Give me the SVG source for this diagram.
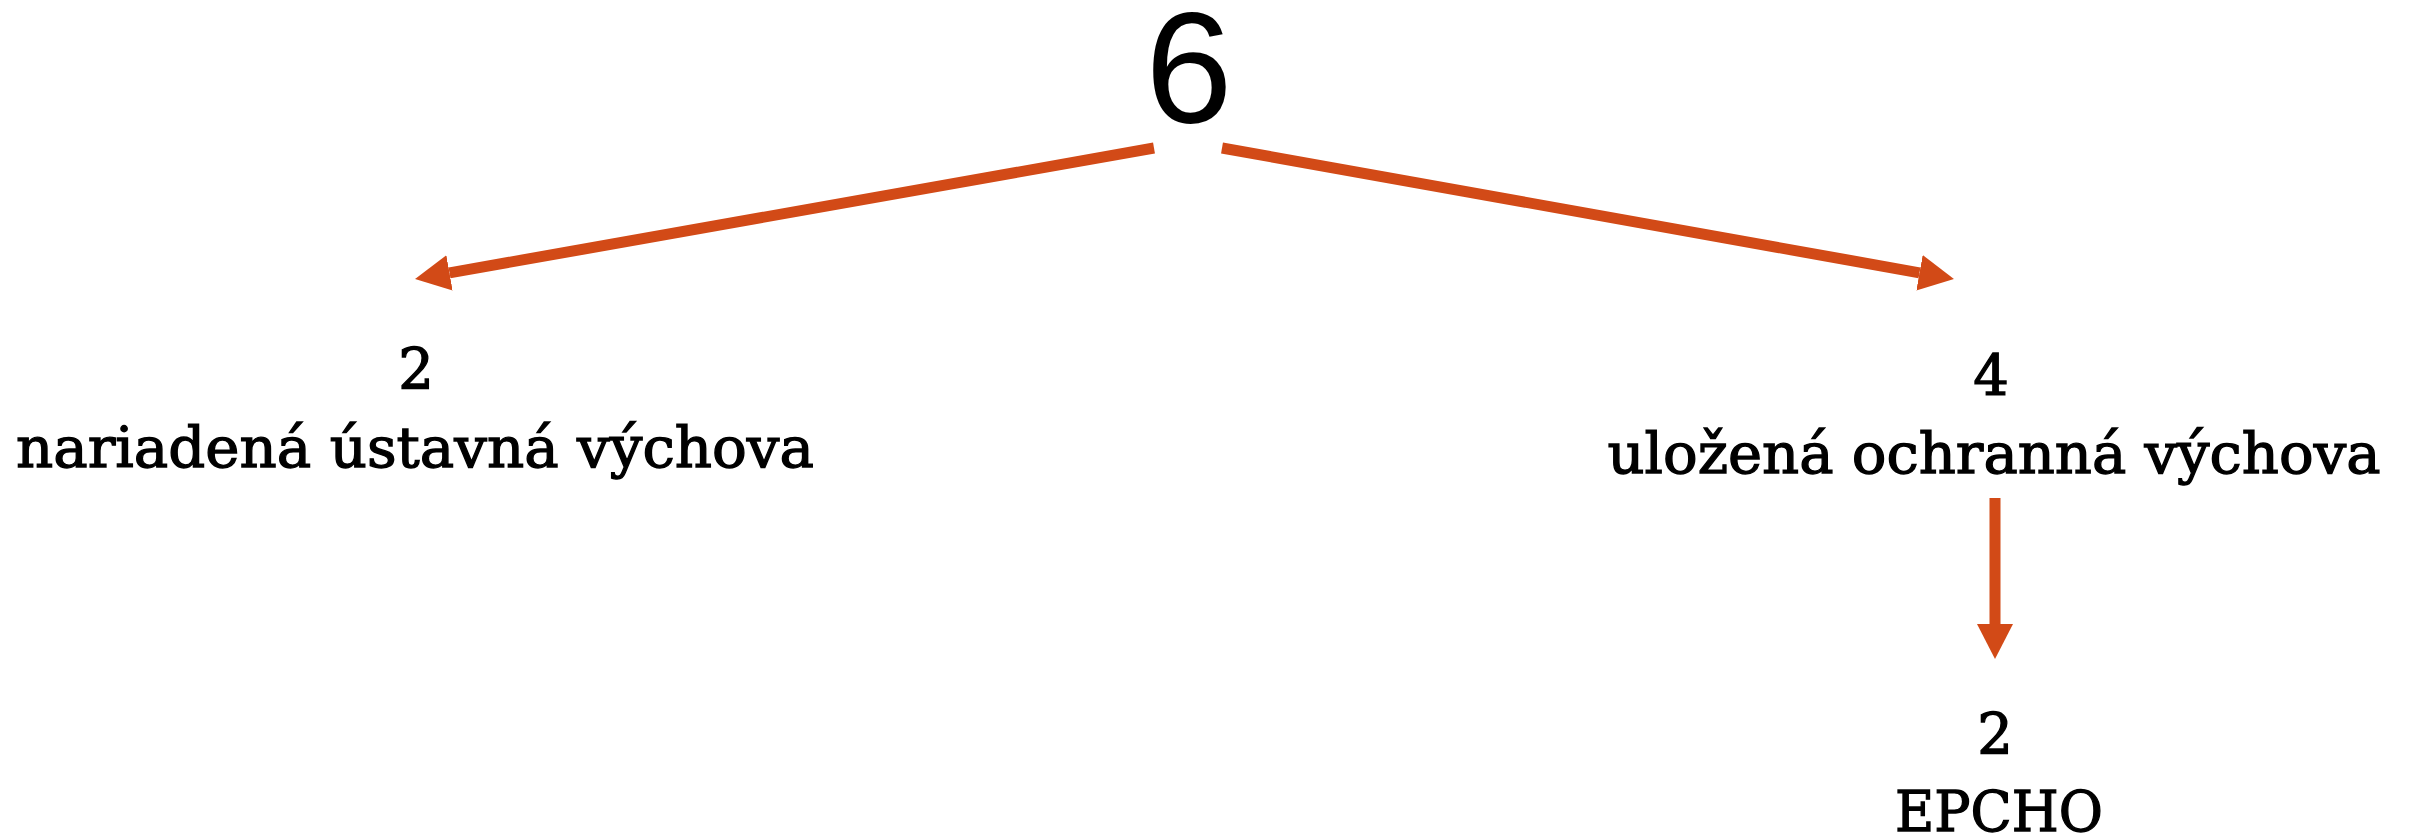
<svg xmlns="http://www.w3.org/2000/svg" width="2410" height="836" viewBox="0 0 2410 836">
<style>
.lbl{font-family:"DejaVu Serif","Liberation Serif",serif;font-size:56px;fill:#000;stroke:#000;stroke-width:1.3px;text-anchor:middle}
.root{font-family:"Liberation Sans",Arial,sans-serif;font-size:157px;fill:#000;text-anchor:middle}
.conn{stroke:#D24A17;stroke-width:11;fill:none;stroke-linecap:butt}
</style>
<defs>
<marker id="ah" viewBox="0 0 35 36" markerWidth="35" markerHeight="36" markerUnits="userSpaceOnUse" refX="0" refY="18" orient="auto">
<path d="M0,0 L35,18 L0,36 Z" fill="#D24A17"/>
</marker>
</defs>
<rect width="2410" height="836" fill="#fff"/>
<g id="connectors">
<line class="conn" x1="1154" y1="148" x2="449.5" y2="272.9" marker-end="url(#ah)"/>
<line class="conn" x1="1222" y1="148" x2="1919.5" y2="272.8" marker-end="url(#ah)"/>
<line class="conn" x1="1995" y1="498" x2="1995" y2="624" stroke-width="12" marker-end="url(#ah)"/>
</g>
<g id="node-root">
<text class="root" x="1189" y="122">6</text>
</g>
<g id="node-left">
<text class="lbl" x="416" y="388">2</text>
<text class="lbl" x="415" y="467" textLength="798" lengthAdjust="spacingAndGlyphs">nariadená ústavná výchova</text>
</g>
<g id="node-right">
<text class="lbl" x="1991" y="395">4</text>
<text class="lbl" x="1994" y="473" textLength="773" lengthAdjust="spacingAndGlyphs">uložená ochranná výchova</text>
</g>
<g id="node-epcho">
<text class="lbl" x="1995" y="753">2</text>
<text class="lbl" x="1999" y="831" textLength="208" lengthAdjust="spacingAndGlyphs">EPCHO</text>
</g>
</svg>
